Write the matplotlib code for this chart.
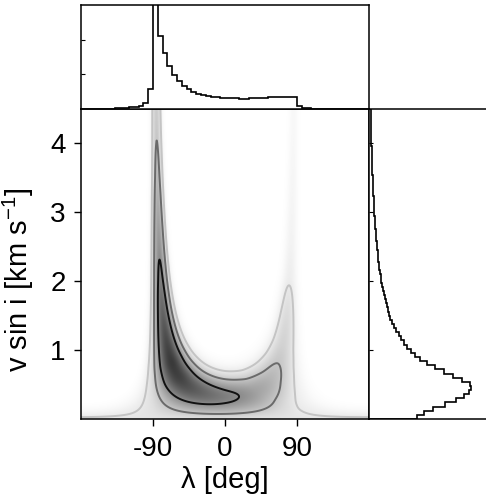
import numpy as np
import matplotlib
matplotlib.use("Agg")
import matplotlib.pyplot as plt
from matplotlib.colors import PowerNorm

plt.rcParams['font.family'] = ['Liberation Sans', 'DejaVu Sans']
plt.rcParams['mathtext.fontset'] = 'custom'
plt.rcParams['mathtext.rm'] = 'Liberation Sans'
plt.rcParams['mathtext.default'] = 'regular'
plt.rcParams['axes.unicode_minus'] = False

# lambda marginal, 6 deg bins (fraction of panel height)
lam_edges = np.arange(-180, 181, 6)
lam_hist = [0.002, 0.002, 0.002, 0.002, 0.003, 0.003, 0.004, 0.005, 0.007, 0.010,
            0.015, 0.020, 0.030, 0.057, 0.19, 1.30,
            0.70, 0.54, 0.41, 0.33, 0.27, 0.22, 0.19, 0.165, 0.146, 0.133, 0.124, 0.117, 0.111, 0.108,
            0.105, 0.103, 0.101, 0.100, 0.100, 0.101, 0.103, 0.105, 0.108, 0.111, 0.114, 0.117, 0.120, 0.120, 0.117,
            0.025, 0.010, 0.006, 0.004, 0.003,
            0.002, 0.002, 0.002, 0.002, 0.002, 0.002, 0.002, 0.002, 0.002, 0.002]

# vsini marginal, 0.06 km/s bins (relative counts)
v_edges = np.linspace(0, 4.5, 76)
v_hist = [48, 54.7, 64, 76, 87, 95, 100, 102, 101, 93,
          83.7, 74.7, 65.7, 58, 51.3, 46, 42, 38, 34.7, 32,
          29.7, 27.3, 25, 23, 21.3, 20, 18.7, 17.5, 16.5, 15.5,
          14.6, 13.8, 13, 12.3, 11.6, 11, 10.4, 9.9, 9.4, 8.9,
          8.5, 8.1, 7.7, 7.3, 7.0, 6.6, 6.3, 6.0, 5.7, 5.4,
          5.2, 4.9, 4.7, 4.5, 4.3, 4.1, 3.9, 3.7, 3.5, 3.3,
          3.2, 3.0, 2.9, 2.7, 2.6, 2.5, 2.4, 2.2, 2.1, 2.0,
          1.9, 1.8, 1.7, 1.6, 1.5]

# joint posterior read as weights on v cos(lambda) and v sin(lambda)
u_knots = [-0.20, -0.15, -0.10, -0.05, 0.00, 0.05, 0.10, 0.15, 0.20, 0.25, 0.30, 0.35,
           0.40, 0.45, 0.50, 0.55, 0.60, 0.65, 0.70, 0.75, 0.80, 0.85, 0.90]
u_weight = [0.0, 0.001, 0.006, 0.025, 0.055, 0.14, 0.29, 0.48, 0.69, 0.88, 0.99, 0.99,
            0.88, 0.69, 0.48, 0.29, 0.15, 0.07, 0.03, 0.01, 0.003, 0.001, 0.0]
w_knots = [-7.0, -6.0, -5.0, -4.5, -4.0, -3.5, -3.0, -2.5, -2.0, -1.5, -1.0, -0.75, -0.5,
           -0.25, 0.0, 0.25, 0.5, 0.75, 1.0, 1.5, 2.0, 2.5, 3.0, 4.0, 5.0, 7.0]
w_weight = [0.07, 0.09, 0.115, 0.13, 0.15, 0.20, 0.28, 0.38, 0.50, 0.68, 0.90, 1.00, 0.92,
            0.70, 0.46, 0.25, 0.16, 0.10, 0.07, 0.045, 0.014, 0.008, 0.006, 0.004, 0.003, 0.002]
levels = [0.018, 0.105, 0.38]


def smooth(a, sig, axis):
    n = int(4 * sig) + 1
    k = np.exp(-0.5 * (np.arange(-n, n + 1) / sig) ** 2)
    k /= k.sum()
    pad = [(0, 0), (0, 0)]
    pad[axis] = (n, n)
    ap = np.pad(a, pad, mode='edge')
    out = np.zeros_like(a)
    for i, wt in enumerate(k):
        sl = [slice(None), slice(None)]
        sl[axis] = slice(i, i + a.shape[axis])
        out += wt * ap[tuple(sl)]
    return out


lam = np.linspace(-180, 180, 1441)
vs = np.linspace(0, 4.5, 901)
LL, VV = np.meshgrid(lam, vs)
U = VV * np.cos(np.radians(LL))
W = VV * np.sin(np.radians(LL))
dens = np.interp(U, u_knots, u_weight) * np.interp(W, w_knots, w_weight)
dens = smooth(smooth(dens, 8.8, 1), 6, 0)
dens = dens / dens.max()

fig = plt.figure(figsize=(4.86, 4.95), dpi=100)
ax = fig.add_axes([81 / 486, 76 / 495, 288 / 486, 310 / 495])
ax_top = fig.add_axes([81 / 486, 386 / 495, 288 / 486, 104 / 495])
ax_right = fig.add_axes([369 / 486, 76 / 495, 130 / 486, 310 / 495])

ax.imshow(dens, origin='lower', extent=[-180, 180, 0, 4.5], aspect='auto',
          cmap='gray_r', norm=PowerNorm(gamma=0.55, vmin=0, vmax=1.6), interpolation='bilinear')
ax.contour(lam, vs, dens, levels=levels, colors=['#c4c4c4', '#6a6a6a', '#111111'], linewidths=1.4)
ax.set_xlim(-180, 180)
ax.set_ylim(0, 4.5)
ax.set_xticks([-90, 0, 90])
ax.set_yticks([1, 2, 3, 4])
ax.tick_params(direction='out', length=5, width=1, labelsize=20)
ax.tick_params(axis='x', pad=7)
ax.tick_params(axis='y', pad=6)
ax.set_xlabel('λ [deg]', fontsize=21, labelpad=3)
ax.set_ylabel('v sin i [km s$^{-1}$]', fontsize=21)
ax.yaxis.set_label_coords(-0.155, 0.45)

ax_top.stairs(lam_hist, lam_edges, color='k', lw=1.2)
ax_top.set_xlim(-180, 180)
ax_top.set_ylim(0, 1)
ax_top.set_xticks([])
ax_top.set_yticks([1 / 3, 2 / 3])
ax_top.tick_params(direction='in', length=3, labelleft=False)

ax_right.stairs(np.array(v_hist) / 102, v_edges, orientation='horizontal', color='k', lw=1.2)
ax_right.set_ylim(0, 4.5)
ax_right.set_xlim(0, 130 / 102)
ax_right.set_xticks([])
ax_right.set_yticks([1, 2, 3, 4])
ax_right.tick_params(direction='in', length=3, labelleft=False)

for a in (ax, ax_top, ax_right):
    for s in a.spines.values():
        s.set_linewidth(1.1)

fig.savefig('out.png', dpi=100)
